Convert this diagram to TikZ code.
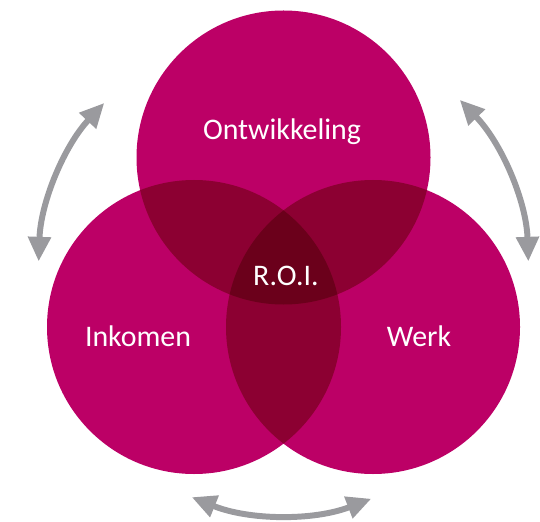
\documentclass[tikz,border=0pt]{standalone}
\usepackage{fontspec}
\setmainfont{Carlito}
\usetikzlibrary{arrows.meta,calc}
\definecolor{roze}{HTML}{BC0066}
\definecolor{donker}{HTML}{8C0032}
\definecolor{donkerst}{HTML}{6B001B}
\definecolor{pijlgrijs}{HTML}{9A9A9E}
\tikzset{
  cirkel/.style={fill=roze},
  label/.style={text=white,font=\fontsize{17}{19}\selectfont},
  pijl/.style={pijlgrijs,line width=3.4pt,{Triangle[length=14pt,width=12.5pt]}-{Triangle[length=14pt,width=12.5pt]}}
}
\begin{document}
\begin{tikzpicture}[x=0.02cm,y=0.02cm]
    \useasboundingbox (0,0) rectangle (540,521);
    \coordinate (T) at (283.5,363.5);
    \coordinate (L) at (194,194);
    \coordinate (R) at (373,194);
    \coordinate (M) at (283.5,251);
    % cirkels
    \foreach \c in {T,L,R} \fill[cirkel] (\c) circle[radius=147];
    % overlap van twee
    \begin{scope}
        \clip (T) circle[radius=147];
        \fill[donker] (L) circle[radius=147];
        \fill[donker] (R) circle[radius=147];
    \end{scope}
    \begin{scope}
        \clip (L) circle[radius=147];
        \fill[donker] (R) circle[radius=147];
    \end{scope}
    % overlap van drie
    \begin{scope}
        \clip (T) circle[radius=147];
        \clip (L) circle[radius=147];
        \fill[donkerst] (R) circle[radius=147];
    \end{scope}
    \node[label] (ontw) at (282,389) {Ontwikkeling};
    \node[label] (ink) at (138,185) {Inkomen};
    \node[label] (werk) at (419,185) {Werk};
    \node[label] (roi) at (286,245) {R.O.I.};
    % pijlen
    \draw[pijl] ($(M)+(178:245)$) arc[start angle=178,end angle=137,radius=245];
    \draw[pijl] ($(M)+(44:245)$) arc[start angle=44,end angle=2,radius=245];
    \draw[pijl] ($(M)+(248:245)$) arc[start angle=248,end angle=291,radius=245];
\end{tikzpicture}
\end{document}
